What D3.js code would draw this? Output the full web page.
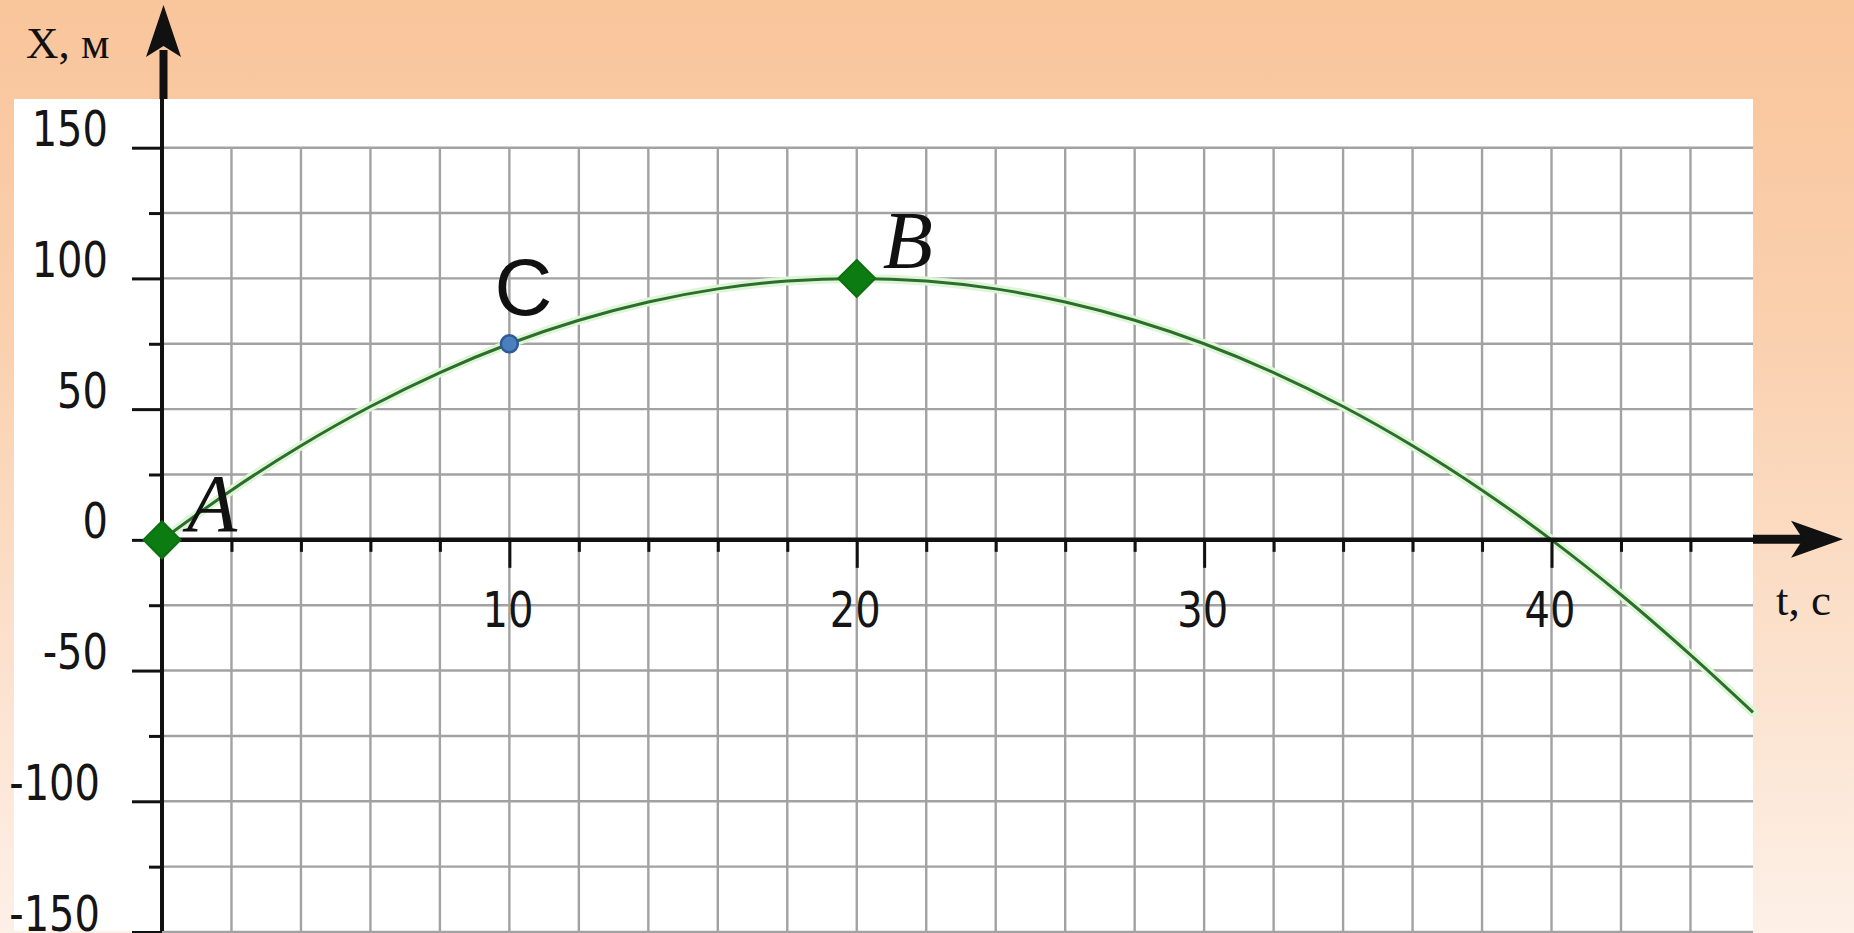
<!DOCTYPE html>
<html>
<head>
<meta charset="utf-8">
<script src="https://cdn.jsdelivr.net/npm/d3@7"></script>
<style>
  html, body { margin: 0; padding: 0; overflow: hidden; }
  svg { display: block; }
</style>
</head>
<body>
<svg id="chart" width="1854" height="933"></svg>
<script>
// ---- data ----
const tValues = [0, 2, 4, 6, 8, 10, 12, 14, 16, 18, 20, 22, 24, 26, 28, 30, 32, 34, 36, 38, 40, 42, 44, 45.8];
const xValues = [0, 19, 36, 51, 64, 75, 84, 91, 96, 99, 100, 99, 96, 91, 84, 75, 64, 51, 36, 19, 0, -21, -44, -66];

const pointNames = ["A", "B", "C"];
const pointT = [0, 20, 10];
const pointX = [0, 100, 75];

const xMajorTicks = [10, 20, 30, 40];
const xMinorTicks = [2, 4, 6, 8, 12, 14, 16, 18, 22, 24, 26, 28, 32, 34, 36, 38, 42, 44];
const xGridTicks = [2, 4, 6, 8, 10, 12, 14, 16, 18, 20, 22, 24, 26, 28, 30, 32, 34, 36, 38, 40, 42, 44];
const yMajorTicks = [-150, -100, -50, 0, 50, 100, 150];
const yMinorTicks = [-125, -75, -25, 25, 75, 125];
const yGridTicks = [-150, -125, -100, -75, -50, -25, 25, 50, 75, 100, 125, 150];

const xAxisTitle = "t, с";
const yAxisTitle = "X, м";

// ---- drawing ----
const W = 1854, H = 933;
const svg = d3.select("#chart");

const defs = svg.append("defs");
const grad = defs.append("linearGradient").attr("id", "bg").attr("x1", 0).attr("y1", 0).attr("x2", 0).attr("y2", 1);
grad.append("stop").attr("offset", "0%").attr("stop-color", "#f9c59b");
grad.append("stop").attr("offset", "35%").attr("stop-color", "#fad0ae");
grad.append("stop").attr("offset", "100%").attr("stop-color", "#fdf0e7");

svg.append("rect").attr("width", W).attr("height", H).attr("fill", "url(#bg)");

const panel = { left: 14, top: 99, right: 1753, bottom: 931 };
svg.append("rect")
  .attr("x", panel.left).attr("y", panel.top)
  .attr("width", panel.right - panel.left).attr("height", panel.bottom - panel.top)
  .attr("fill", "#ffffff");

const x = d3.scaleLinear().domain([0, 45.8]).range([162, 1753]);
const y = d3.scaleLinear().domain([-150, 150]).range([932, 147.7]);

// grid
const grid = svg.append("g").attr("stroke", "#a2a2a2").attr("stroke-width", 2.4);
grid.selectAll("line.v").data(xGridTicks).join("line")
  .attr("class", "v")
  .attr("x1", d => x(d)).attr("x2", d => x(d))
  .attr("y1", y(150)).attr("y2", panel.bottom);
grid.selectAll("line.h").data(yGridTicks).join("line")
  .attr("class", "h")
  .attr("x1", x(0)).attr("x2", panel.right)
  .attr("y1", d => y(d)).attr("y2", d => y(d));

// curve
const data = tValues.map((t, i) => ({ t, v: xValues[i] }));
const line = d3.line().x(d => x(d.t)).y(d => y(d.v)).curve(d3.curveCatmullRom);
svg.append("path").datum(data).attr("d", line)
  .attr("fill", "none").attr("stroke", "#dff5d8").attr("stroke-width", 9).attr("stroke-linecap", "round");
svg.append("path").datum(data).attr("d", line)
  .attr("fill", "none").attr("stroke", "#2c6e2c").attr("stroke-width", 3);

// axes (ticks)
const labelFont = "DejaVu Sans";
function styleTicks(g, w) {
  g.select(".domain").remove();
  g.selectAll(".tick line").attr("stroke", "#111").attr("stroke-width", w);
}
const xAxisMajor = svg.append("g").attr("transform", `translate(0,${y(0)})`)
  .call(d3.axisBottom(x).tickValues(xMajorTicks).tickSize(28).tickSizeOuter(0).tickFormat(d3.format("d")));
styleTicks(xAxisMajor, 3);
xAxisMajor.selectAll(".tick text")
  .attr("y", null).attr("dy", null)
  .attr("font-family", labelFont).attr("font-size", 50).attr("fill", "#151515")
  .attr("text-anchor", "middle")
  .attr("transform", "translate(-2,87) scale(0.8,1)");

const xAxisMinor = svg.append("g").attr("transform", `translate(0,${y(0)})`)
  .call(d3.axisBottom(x).tickValues(xMinorTicks).tickSize(12).tickSizeOuter(0).tickFormat(""));
styleTicks(xAxisMinor, 3);

const yAxisMajor = svg.append("g").attr("transform", `translate(${x(0)},0)`)
  .call(d3.axisLeft(y).tickValues(yMajorTicks).tickSize(30).tickSizeOuter(0).tickFormat(d3.format("d")));
styleTicks(yAxisMajor, 3);
yAxisMajor.selectAll(".tick text")
  .text(d => String(d).replace("\u2212", "-"))
  .attr("x", null).attr("dy", null)
  .attr("font-family", labelFont).attr("font-size", 50).attr("fill", "#151515")
  .attr("text-anchor", "end")
  .attr("transform", d => `translate(${d <= -100 ? -62 : -54},-2) scale(0.8,1)`);

const yAxisMinor = svg.append("g").attr("transform", `translate(${x(0)},0)`)
  .call(d3.axisLeft(y).tickValues(yMinorTicks).tickSize(13).tickSizeOuter(0).tickFormat(""));
styleTicks(yAxisMinor, 3);

// axis lines with arrows
const x0 = x(0), y0 = y(0);
svg.append("line").attr("x1", x0).attr("x2", x0).attr("y1", panel.bottom).attr("y2", panel.top)
  .attr("stroke", "#111").attr("stroke-width", 4);
svg.append("line").attr("x1", x0 + 1.5).attr("x2", x0 + 1.5).attr("y1", panel.top).attr("y2", 50)
  .attr("stroke", "#111").attr("stroke-width", 8);
svg.append("path")
  .attr("d", `M${x0 + 1.5},5 L${x0 + 19},57 L${x0 + 1.5},46 L${x0 - 16},57 Z`)
  .attr("fill", "#111");

svg.append("line").attr("x1", x0).attr("x2", panel.right).attr("y1", y0).attr("y2", y0)
  .attr("stroke", "#111").attr("stroke-width", 4.5);
svg.append("line").attr("x1", panel.right).attr("x2", 1805).attr("y1", y0 - 0.5).attr("y2", y0 - 0.5)
  .attr("stroke", "#111").attr("stroke-width", 9);
svg.append("path")
  .attr("d", `M1843,${y0 - 0.5} L1791,${y0 - 19} L1803,${y0 - 0.5} L1791,${y0 + 18} Z`)
  .attr("fill", "#111");

// axis titles
svg.append("text").attr("x", 26).attr("y", 58)
  .attr("font-family", "Liberation Serif").attr("font-size", 45).attr("fill", "#111")
  .text(yAxisTitle);
svg.append("text").attr("x", 1776).attr("y", 615)
  .attr("font-family", "Liberation Serif").attr("font-size", 45).attr("fill", "#111")
  .text(xAxisTitle);

// point labels
const pts = pointNames.map((n, i) => ({ name: n, t: pointT[i], v: pointX[i] }));
const labelOffsets = { A: [25, -9], B: [26, -10], C: [-15, -29] };
pts.forEach(p => {
  const isC = p.name === "C";
  svg.append("text")
    .attr("x", x(p.t) + labelOffsets[p.name][0])
    .attr("y", y(p.v) + labelOffsets[p.name][1])
    .attr("font-family", isC ? "Liberation Sans" : "Liberation Serif")
    .attr("font-style", isC ? "normal" : "italic")
    .attr("font-size", isC ? 80 : 82)
    .attr("fill", "#111")
    .text(p.name);
});

// point markers
const diamond = d3.symbol().type(d3.symbolSquare).size(690);
pts.filter(p => p.name !== "C").forEach(p => {
  svg.append("path")
    .attr("d", diamond())
    .attr("transform", `translate(${x(p.t)},${y(p.v)}) rotate(45)`)
    .attr("fill", "#0c7c12").attr("stroke", "#0a7010").attr("stroke-width", 2).attr("stroke-linejoin", "round");
});
pts.filter(p => p.name === "C").forEach(p => {
  svg.append("circle")
    .attr("cx", x(p.t)).attr("cy", y(p.v)).attr("r", 8.5)
    .attr("fill", "#4a7fc0").attr("stroke", "#2e5b95").attr("stroke-width", 2.5);
});
</script>
</body>
</html>
